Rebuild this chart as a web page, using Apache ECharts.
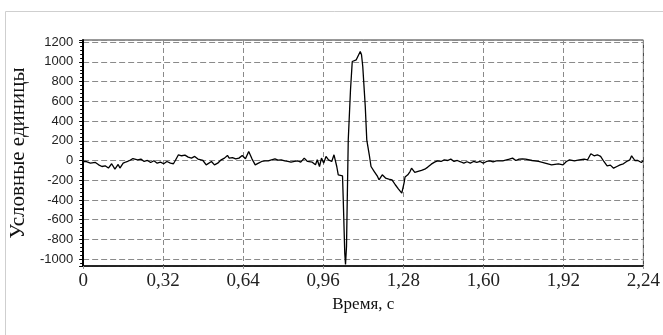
<!DOCTYPE html>
<html><head><meta charset="utf-8">
<script src="https://cdn.jsdelivr.net/npm/echarts@6/dist/echarts.min.js"></script>
<style>html,body{margin:0;padding:0;background:#fff}#c{width:663px;height:335px}</style>
</head><body><div id="c"></div>
<script>
const times = [0.000,0.010,0.029,0.049,0.062,0.075,0.088,0.101,0.114,0.127,0.140,0.147,0.160,0.166,0.173,0.186,0.199,0.218,0.231,0.244,0.257,0.270,0.283,0.296,0.309,0.322,0.335,0.349,0.361,0.368,0.381,0.394,0.407,0.420,0.433,0.446,0.459,0.479,0.492,
0.499,0.513,0.525,0.538,0.552,0.565,0.577,0.584,0.597,0.610,0.623,0.636,0.649,0.662,0.675,0.688,0.701,0.714,0.727,0.740,0.753,0.767,0.779,0.792,0.806,0.819,0.831,0.845,0.858,0.870,0.884,0.897,0.916,0.929,0.936,0.945,0.953,0.962,0.971,0.981,0.994,
1.003,1.014,1.020,1.037,1.040,1.046,1.049,1.053,1.056,1.060,1.069,1.076,1.092,1.099,1.108,1.113,1.118,1.128,1.134,1.144,1.151,1.164,1.177,1.183,1.196,1.209,1.222,1.235,1.248,1.261,1.274,1.283,1.287,1.298,1.307,1.313,
1.326,1.339,1.353,1.366,1.378,1.392,1.405,1.417,1.431,1.444,1.457,1.470,1.483,1.496,1.509,1.522,1.535,1.548,1.561,1.574,1.587,1.600,1.613,1.626,1.639,1.652,1.678,1.704,1.717,1.730,1.743,1.756,1.769,1.795,1.821,1.847,1.873,1.900,1.919,1.932,1.945,1.964,1.984,2.003,2.017,2.030,2.043,2.056,2.069,2.082,2.095,2.108,2.121,2.134,2.147,2.160,2.173,2.186,2.193,2.206,2.218,2.232,2.240];
const values = [-10,-10,-27,-20,-44,-61,-54,-77,-33,-88,-40,-77,-27,-44,-13,0,20,7,14,-10,0,-20,-3,-27,-17,-33,-10,-27,-33,-3,58,48,54,34,24,41,14,0,-44,
-61,-10,-44,-27,7,24,51,24,30,17,24,51,17,91,17,-44,-27,-10,-3,-3,7,17,4,7,-3,-10,-17,-10,-3,-17,24,-10,-17,-44,7,-61,24,-27,41,7,-10,
58,-61,-145,-155,-398,-939,-1055,-872,-398,210,717,1004,1021,1038,1105,1072,953,548,210,58,-61,-112,-162,-196,-145,-178,-189,-196,-246,-290,-331,-229,-168,-145,-112,-78,
-121,-111,-101,-88,-67,-37,-17,-3,-10,7,0,14,-10,0,-13,-27,-13,-27,-10,-20,-10,-27,-10,-3,-13,-3,-3,14,24,0,14,17,14,0,-10,-27,-44,-34,-44,-10,7,-3,7,14,7,68,48,58,41,-10,-54,-47,-78,-61,-44,-34,-10,7,48,0,0,-20,0];
const xTickStep = 0.32;
const xMin = 0, xMax = 2.24;
const yMin = -1070, yMax = 1222;
const yTitle = 'Условные единицы';
const xTitle = 'Время, с';

const chart = echarts.init(document.getElementById('c'), null, {renderer: 'canvas'});
chart.setOption({
  animation: false,
  backgroundColor: '#fff',
  graphic: [{type: 'rect', shape: {x: 5.5, y: 11.5, width: 700, height: 400}, style: {fill: 'none', stroke: '#cfcfcf', lineWidth: 1}, silent: true}],
  grid: {left: 80, right: 9, top: 40, bottom: 69, show: true, borderColor: '#333', borderWidth: 1, containLabel: false},
  xAxis: {
    type: 'value', min: xMin, max: xMax, interval: xTickStep,
    name: xTitle, nameLocation: 'middle', nameGap: 29,
    nameTextStyle: {fontFamily: 'Liberation Serif', fontSize: 17, color: '#111'},
    axisLine: {onZero: false, lineStyle: {color: '#000', width: 1.5}},
    axisTick: {show: true, length: 3, lineStyle: {color: '#999'}},
    axisLabel: {fontFamily: 'Liberation Serif', fontSize: 19, color: '#222', margin: 6,
      formatter: v => v === 0 ? '0' : v.toFixed(2).replace('.', ',')},
    splitLine: {show: true, lineStyle: {color: '#8a8a8a', type: [5, 3], width: 1}}
  },
  yAxis: {
    type: 'value', min: yMin, max: yMax, splitNumber: 11,
    name: yTitle, nameLocation: 'middle', nameGap: 53, nameRotate: 90,
    nameTextStyle: {fontFamily: 'Liberation Serif', fontSize: 21, color: '#111'},
    axisLine: {onZero: false, lineStyle: {color: '#000', width: 2}},
    axisTick: {show: true, length: 4, lineStyle: {color: '#000', width: 1}},
    minorTick: {show: true, splitNumber: 5, length: 3, lineStyle: {color: '#000', width: 1}},
    axisLabel: {fontFamily: 'Liberation Sans', fontSize: 13, color: '#222', margin: 10,
      showMinLabel: false, showMaxLabel: false, formatter: v => String(Math.round(v))},
    splitLine: {show: true, lineStyle: {color: '#8a8a8a', type: [6, 3], width: 1}}
  },
  series: [{
    type: 'line', showSymbol: false, symbol: 'none',
    data: times.map((t, i) => [t, values[i]]),
    lineStyle: {color: '#000', width: 1.3},
    clip: true
  }]
});
</script></body></html>
